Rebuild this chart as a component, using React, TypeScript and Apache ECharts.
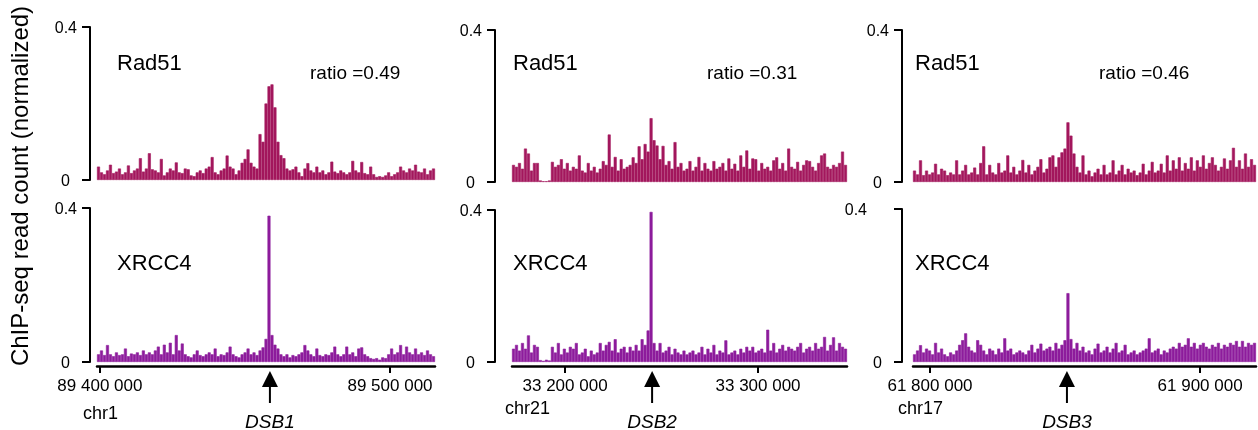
import React, { useEffect, useRef } from "react";
import * as echarts from "echarts";

// ---- data (normalized ChIP-seq read count per bin) ----
const rad51Chr1 = [
  0.035, 0.02, 0.015, 0.025, 0.04, 0.018, 0.022, 0.03, 0.015, 0.02,
  0.038, 0.018, 0.025, 0.03, 0.057, 0.022, 0.03, 0.07, 0.028, 0.025,
  0.02, 0.055, 0.012, 0.02, 0.03, 0.025, 0.046, 0.02, 0.018, 0.03,
  0.028, 0.012, 0.01, 0.02, 0.025, 0.018, 0.03, 0.035, 0.06, 0.02,
  0.015, 0.025, 0.03, 0.064, 0.035, 0.03, 0.015, 0.025, 0.045, 0.055,
  0.08, 0.045, 0.035, 0.03, 0.12, 0.1, 0.2, 0.245, 0.25, 0.19,
  0.1, 0.065, 0.057, 0.03, 0.025, 0.028, 0.035, 0.02, 0.01, 0.03,
  0.044, 0.025, 0.02, 0.035, 0.02, 0.025, 0.015, 0.02, 0.048, 0.022,
  0.018, 0.025, 0.02, 0.015, 0.02, 0.05, 0.025, 0.02, 0.047, 0.018,
  0.015, 0.035, 0.015, 0.008, 0.01, 0.008, 0.012, 0.02, 0.01, 0.015,
  0.02, 0.035, 0.025, 0.02, 0.03, 0.025, 0.04, 0.022, 0.02, 0.03,
  0.015, 0.025, 0.03,
];
const xrcc4Chr1 = [
  0.02, 0.03, 0.018, 0.044, 0.02, 0.015, 0.025, 0.018, 0.02, 0.035,
  0.015, 0.022, 0.02, 0.025, 0.018, 0.03, 0.02, 0.025, 0.02, 0.03,
  0.04, 0.02, 0.045, 0.025, 0.05, 0.02, 0.07, 0.03, 0.048, 0.02,
  0.015, 0.012, 0.02, 0.03, 0.018, 0.015, 0.02, 0.025, 0.02, 0.035,
  0.015, 0.02, 0.018, 0.025, 0.04, 0.02, 0.015, 0.012, 0.02, 0.025,
  0.035, 0.02, 0.025, 0.018, 0.03, 0.038, 0.06, 0.38, 0.07, 0.045,
  0.035, 0.02, 0.015, 0.02, 0.012, 0.018, 0.015, 0.02, 0.025, 0.044,
  0.03, 0.02, 0.015, 0.035, 0.018, 0.015, 0.02, 0.018, 0.025, 0.04,
  0.02, 0.015, 0.02, 0.04, 0.02, 0.025, 0.015, 0.035, 0.038, 0.02,
  0.015, 0.01, 0.008, 0.01, 0.006, 0.012, 0.01, 0.02, 0.035, 0.02,
  0.025, 0.044, 0.02, 0.04, 0.025, 0.02, 0.035, 0.02, 0.025, 0.018,
  0.03, 0.02, 0.015,
];
const rad51Chr21 = [
  0.045, 0.04, 0.05, 0.035, 0.088, 0.075, 0.03, 0.05, 0.05, 0.004,
  0.002, 0.002, 0.004, 0.053, 0.04, 0.045, 0.06, 0.035, 0.05, 0.03,
  0.04, 0.035, 0.07, 0.03, 0.025, 0.05, 0.03, 0.04, 0.025, 0.035,
  0.055, 0.045, 0.125, 0.04, 0.066, 0.03, 0.06, 0.035, 0.04, 0.045,
  0.065, 0.05, 0.094, 0.06, 0.1, 0.08, 0.168, 0.11, 0.096, 0.06,
  0.095, 0.045, 0.055, 0.035, 0.105, 0.04, 0.05, 0.03, 0.035, 0.055,
  0.03, 0.04, 0.066, 0.03, 0.05, 0.035, 0.03, 0.055, 0.035, 0.04,
  0.05, 0.03, 0.062, 0.035, 0.048, 0.03, 0.07, 0.04, 0.083, 0.035,
  0.062, 0.06, 0.03, 0.05, 0.035, 0.04, 0.03, 0.057, 0.065, 0.035,
  0.05, 0.03, 0.088, 0.04, 0.035, 0.053, 0.03, 0.045, 0.057, 0.055,
  0.04, 0.03, 0.05, 0.07, 0.075, 0.04, 0.035, 0.045, 0.04, 0.05,
  0.08, 0.045,
];
const xrcc4Chr21 = [
  0.035, 0.045, 0.03, 0.05, 0.035, 0.07, 0.025, 0.045, 0.04, 0.005,
  0.003, 0.006, 0.004, 0.04, 0.025, 0.05, 0.02, 0.035, 0.025, 0.04,
  0.035, 0.05, 0.02, 0.025, 0.035, 0.015, 0.03, 0.02, 0.025, 0.05,
  0.03, 0.045, 0.053, 0.03, 0.06, 0.025, 0.035, 0.04, 0.025, 0.04,
  0.03, 0.045, 0.03, 0.06, 0.045, 0.083, 0.395, 0.05, 0.03, 0.05,
  0.025, 0.03, 0.04, 0.02, 0.035, 0.025, 0.02, 0.03, 0.02, 0.025,
  0.03, 0.02, 0.025, 0.04, 0.02, 0.035, 0.025, 0.045, 0.02, 0.03,
  0.025, 0.057, 0.02, 0.025, 0.03, 0.02, 0.035, 0.025, 0.04, 0.03,
  0.04, 0.025, 0.03, 0.035, 0.025, 0.085, 0.03, 0.05, 0.025, 0.035,
  0.045, 0.03, 0.04, 0.035, 0.03, 0.04, 0.05, 0.025, 0.035, 0.04,
  0.03, 0.05, 0.035, 0.04, 0.066, 0.03, 0.045, 0.065, 0.03, 0.05,
  0.04, 0.035,
];
const rad51Chr17 = [
  0.03, 0.02, 0.057, 0.018, 0.03, 0.02, 0.025, 0.048, 0.02, 0.035,
  0.03, 0.018, 0.025, 0.02, 0.057, 0.02, 0.03, 0.045, 0.02, 0.025,
  0.038, 0.02, 0.05, 0.094, 0.02, 0.045, 0.025, 0.02, 0.05, 0.025,
  0.03, 0.07, 0.025, 0.04, 0.02, 0.03, 0.058, 0.025, 0.045, 0.02,
  0.03, 0.04, 0.06, 0.025, 0.035, 0.065, 0.07, 0.04, 0.065, 0.078,
  0.088, 0.157, 0.122, 0.075, 0.04, 0.025, 0.07, 0.02, 0.03, 0.015,
  0.025, 0.035, 0.02, 0.045, 0.02, 0.025, 0.057, 0.02, 0.03, 0.045,
  0.02, 0.035, 0.025, 0.03, 0.018, 0.025, 0.048, 0.02, 0.03, 0.053,
  0.025, 0.03, 0.048, 0.025, 0.07, 0.03, 0.057, 0.035, 0.065, 0.03,
  0.05, 0.035, 0.065, 0.03, 0.057, 0.04, 0.07, 0.035, 0.05, 0.065,
  0.045, 0.03, 0.04, 0.062, 0.035, 0.057, 0.09, 0.04, 0.057, 0.035,
  0.075, 0.04, 0.06, 0.045,
];
const xrcc4Chr17 = [
  0.02, 0.03, 0.044, 0.025, 0.035, 0.03, 0.02, 0.05, 0.025, 0.035,
  0.02, 0.015, 0.025, 0.02, 0.03, 0.045, 0.057, 0.075, 0.04, 0.03,
  0.025, 0.057, 0.045, 0.03, 0.02, 0.035, 0.03, 0.02, 0.035, 0.025,
  0.062, 0.03, 0.035, 0.02, 0.025, 0.03, 0.025, 0.02, 0.03, 0.045,
  0.025, 0.035, 0.048, 0.03, 0.035, 0.04, 0.03, 0.05, 0.035, 0.045,
  0.057, 0.18, 0.06, 0.035, 0.05, 0.03, 0.04, 0.025, 0.03, 0.02,
  0.035, 0.048, 0.025, 0.03, 0.04, 0.025, 0.035, 0.05, 0.025, 0.03,
  0.045, 0.02, 0.025, 0.03, 0.02, 0.025, 0.03, 0.035, 0.062, 0.025,
  0.03, 0.035, 0.02, 0.03, 0.025, 0.035, 0.04, 0.035, 0.05, 0.04,
  0.045, 0.062, 0.04, 0.05, 0.035, 0.045, 0.05, 0.04, 0.035, 0.045,
  0.04, 0.05, 0.035, 0.045, 0.04, 0.05, 0.045, 0.055, 0.04, 0.055,
  0.04, 0.05, 0.045, 0.05,
];

const rad51Tracks = [rad51Chr1, rad51Chr21, rad51Chr17];
const xrcc4Tracks = [xrcc4Chr1, xrcc4Chr21, xrcc4Chr17];
const chromosomes = ["chr1", "chr21", "chr17"];
const ratios = ["ratio =0.49", "ratio =0.31", "ratio =0.46"];
const dsbLabels = ["DSB1", "DSB2", "DSB3"];
const dsbPositions = [89458600, 33245100, 61850700];
const genomicRanges = [
  [89399000, 89515500],
  [33172500, 33346100],
  [61793700, 61920700],
];
const genomicTicks = [
  [89400000, 89500000],
  [33200000, 33300000],
  [61800000, 61900000],
];
const yTicks = [0, 0.4];
const yTitle = "ChIP-seq read count (normalized)";

// ---- layout / styles ----
const FONT = '"Liberation Sans", Arial, Helvetica, sans-serif';
const RAD51_COLOR = "#a3175d";
const XRCC4_COLOR = "#8d1c9c";
const layout = [
  { left: 97, width: 338, topTop: 27, hTop: 153, topBot: 208, hBot: 154, yOffset: 7, botPad: 0,
    rad: [117, 62], ratio: [310, 72], xr: [117, 262], chr: [83, 413] },
  { left: 512, width: 335, topTop: 30, hTop: 152, topBot: 210, hBot: 152, yOffset: 17, botPad: 0,
    rad: [513, 62], ratio: [707, 72], xr: [513, 262], chr: [505, 408] },
  { left: 913, width: 343, topTop: 30, hTop: 152, topBot: 209, hBot: 153, yOffset: 11, botPad: 22,
    rad: [915, 62], ratio: [1099, 72], xr: [915, 262], chr: [898, 408] },
];

const fmtGenomic = (v: number) => String(Math.round(v)).replace(/\B(?=(\d{3})+(?!\d))/g, " ");

export default function App() {
  const ref = useRef<HTMLDivElement>(null);
  useEffect(() => {
    const chart = echarts.init(ref.current as HTMLDivElement, null, { renderer: "svg" });
    const grid: any[] = [];
    const xAxis: any[] = [];
    const yAxis: any[] = [];
    const series: any[] = [];

    const mkY = (gridIndex: number, offset: number, pad04: number) => ({
      type: "value",
      gridIndex,
      position: "left",
      min: yTicks[0],
      max: yTicks[1],
      interval: yTicks[1],
      offset,
      axisLine: { show: true, lineStyle: { color: "#000", width: 2 } },
      axisTick: { show: true, length: 8, lineStyle: { color: "#000", width: 2 } },
      splitLine: { show: false },
      axisLabel: {
        margin: 13,
        formatter: (v: number) => (v === 0 ? "{z|0}" : "{f|0.4}"),
        rich: {
          z: { fontSize: 16, fontFamily: FONT, color: "#000", padding: [0, 7, 0, 0] },
          f: { fontSize: 16, fontFamily: FONT, color: "#000", padding: [0, pad04, 0, 0] },
        },
      },
    });

    layout.forEach((L, p) => {
      grid.push({ left: L.left, top: L.topTop, width: L.width, height: L.hTop });
      grid.push({ left: L.left, top: L.topBot, width: L.width, height: L.hBot });
      const catsTop = rad51Tracks[p].map((_, i) => i);
      const catsBot = xrcc4Tracks[p].map((_, i) => i);
      xAxis.push({ type: "category", gridIndex: 2 * p, position: "bottom", data: catsTop, show: false });
      xAxis.push({ type: "category", gridIndex: 2 * p + 1, position: "bottom", data: catsBot, show: false });
      xAxis.push({
        type: "value",
        gridIndex: 2 * p + 1,
        position: "bottom",
        min: genomicRanges[p][0],
        max: genomicRanges[p][1],
        offset: 4,
        axisLine: { show: true, lineStyle: { color: "#000", width: 2.5 } },
        axisTick: { show: true, length: 7, customValues: genomicTicks[p], lineStyle: { color: "#000", width: 2 } },
        axisLabel: {
          customValues: genomicTicks[p],
          formatter: fmtGenomic,
          fontSize: 17,
          fontFamily: FONT,
          color: "#000",
          margin: 11,
        },
        splitLine: { show: false },
      });
      yAxis.push(mkY(2 * p, L.yOffset, 0));
      yAxis.push(mkY(2 * p + 1, L.yOffset, L.botPad));
      series.push({
        type: "bar",
        xAxisIndex: 3 * p,
        yAxisIndex: 2 * p,
        data: rad51Tracks[p],
        barCategoryGap: "0%",
        itemStyle: { color: RAD51_COLOR, borderColor: RAD51_COLOR, borderWidth: 0.6 },
        silent: true,
      });
      series.push({
        type: "bar",
        xAxisIndex: 3 * p + 1,
        yAxisIndex: 2 * p + 1,
        data: xrcc4Tracks[p],
        barCategoryGap: "0%",
        itemStyle: { color: XRCC4_COLOR, borderColor: XRCC4_COLOR, borderWidth: 0.6 },
        silent: true,
      });
    });

    chart.setOption({ animation: false, grid, xAxis, yAxis, series });

    const txt = (x: number, y: number, text: string, fontSize: number, extra: any = {}) => ({
      type: "text",
      x,
      y,
      style: { text, fontSize, fontFamily: FONT, fill: "#000", align: "left", verticalAlign: "middle", ...extra },
      silent: true,
    });
    const graphic: any[] = [];
    graphic.push({
      type: "text",
      x: 19,
      y: 186,
      rotation: Math.PI / 2,
      style: { text: yTitle, fontSize: 24, fontFamily: FONT, fill: "#000", align: "center", verticalAlign: "middle" },
      silent: true,
    });
    layout.forEach((L, p) => {
      graphic.push(txt(L.rad[0], L.rad[1], "Rad51", 22));
      graphic.push(txt(L.ratio[0], L.ratio[1], ratios[p], 19));
      graphic.push(txt(L.xr[0], L.xr[1], "XRCC4", 22));
      graphic.push(txt(L.chr[0], L.chr[1], chromosomes[p], 18));
      const x = chart.convertToPixel({ xAxisIndex: 3 * p + 2 } as any, dsbPositions[p]) as number;
      graphic.push({
        type: "polygon",
        shape: { points: [[x, 371], [x - 8, 387], [x + 8, 387]] },
        style: { fill: "#000" },
        silent: true,
      });
      graphic.push({
        type: "line",
        shape: { x1: x, y1: 386, x2: x, y2: 403 },
        style: { stroke: "#000", lineWidth: 2 },
        silent: true,
      });
      graphic.push(txt(x, 421, dsbLabels[p], 19, { align: "center", fontStyle: "italic" }));
    });
    chart.setOption({ graphic });

    return () => chart.dispose();
  }, []);
  return <div ref={ref} style={{ position: "fixed", left: 0, top: 0, width: 1258, height: 430 }} />;
}
